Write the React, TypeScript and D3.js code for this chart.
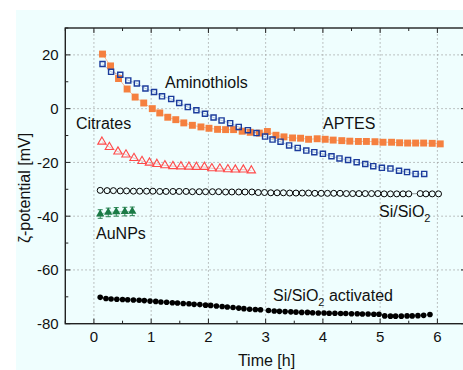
import React from "react";
import * as d3 from "d3";

// ---- data ----
const aminoT = [0.15,0.30,0.46,0.60,0.75,0.90,1.05,1.19,1.35,1.49,1.64,1.79,1.94,2.09,2.23,2.38,2.53,2.69,2.84,2.99,3.12,3.26,3.41,3.56,3.71,3.85,4.00,4.15,4.29,4.44,4.59,4.74,4.88,5.03,5.18,5.33,5.47,5.62,5.77];
const aminoV = [16.6,13.7,12.6,10.5,9.4,7.5,6.2,4.6,3.6,2.1,0.6,-0.6,-1.9,-3.3,-4.4,-5.4,-6.8,-8.0,-9.1,-10.4,-11.5,-12.3,-13.7,-14.6,-15.6,-16.2,-16.8,-17.7,-18.5,-19.1,-19.9,-20.6,-21.4,-22.0,-22.3,-23.1,-23.6,-24.3,-24.3];

const aptesT = [0.15,0.29,0.43,0.58,0.72,0.87,1.02,1.15,1.29,1.43,1.57,1.72,1.87,2.01,2.16,2.30,2.44,2.59,2.73,2.89,3.03,3.18,3.32,3.47,3.61,3.75,3.90,4.04,4.18,4.33,4.47,4.62,4.76,4.91,5.05,5.20,5.34,5.48,5.62,5.76,5.91,6.05];
const aptesV = [20.3,15.9,11.2,7.3,4.3,2.1,0.0,-1.6,-3.2,-4.1,-5.3,-6.2,-6.8,-7.3,-7.7,-7.8,-7.8,-8.4,-8.8,-9.1,-8.5,-9.9,-10.5,-10.9,-11.0,-11.4,-11.2,-11.4,-11.7,-11.9,-12.1,-12.2,-12.2,-12.3,-12.5,-12.5,-12.7,-12.8,-12.8,-12.8,-12.9,-13.1];

const citT = [0.14,0.27,0.42,0.56,0.70,0.84,0.97,1.10,1.24,1.38,1.52,1.66,1.79,1.93,2.06,2.20,2.34,2.47,2.61,2.75];
const citV = [-12.3,-14.3,-16.0,-17.1,-18.4,-19.5,-20.1,-20.6,-21.1,-21.4,-21.5,-21.6,-21.7,-21.7,-22.2,-22.3,-22.6,-22.7,-22.7,-23.0];

const sioT = [0.11,0.23,0.34,0.46,0.57,0.69,0.80,0.92,1.03,1.15,1.26,1.38,1.49,1.61,1.72,1.84,1.95,2.07,2.18,2.30,2.41,2.53,2.64,2.76,
  2.87,2.98,3.09,3.20,3.31,3.42,3.53,3.64,3.75,3.86,3.97,4.08,4.19,4.30,4.41,4.52,4.63,4.74,4.85,4.96,5.07,5.18,5.29,5.40,5.50,
  5.70,5.80,5.91,6.02];
const sioV = [-30.4,-30.5,-30.5,-30.6,-30.6,-30.7,-30.7,-30.7,-30.7,-30.8,-30.8,-30.8,-30.8,-30.8,-30.9,-30.9,-30.9,-30.9,-30.9,-31.0,-31.0,-31.0,-31.0,-31.0,
  -31.2,-31.2,-31.3,-31.3,-31.3,-31.4,-31.4,-31.4,-31.4,-31.5,-31.5,-31.5,-31.5,-31.5,-31.6,-31.6,-31.6,-31.6,-31.6,-31.6,-31.7,-31.7,-31.7,-31.7,-31.7,
  -31.6,-31.7,-31.7,-31.7];

const actT = [0.11,0.21,0.30,0.40,0.50,0.59,0.69,0.79,0.88,0.98,1.08,1.17,1.27,1.37,1.46,1.56,1.66,1.75,1.85,1.95,2.04,2.14,2.24,2.33,2.43,2.53,2.62,2.72,2.82,2.91,
  3.05,3.15,3.24,3.34,3.44,3.53,3.63,3.73,3.82,3.92,4.02,4.11,4.21,4.31,4.40,4.50,4.60,4.69,4.79,4.89,4.98,5.08,5.18,5.27,5.37,5.47,5.56,5.66,5.76,5.87];
const actV = [-70.2,-70.6,-70.8,-70.9,-71.0,-71.1,-71.2,-71.3,-71.4,-71.6,-71.7,-71.9,-72.0,-72.2,-72.3,-72.5,-72.6,-72.8,-72.9,-73.1,-73.2,-73.4,-73.6,-73.8,-74.0,-74.2,-74.4,-74.6,-74.7,-74.8,
  -75.1,-75.3,-75.4,-75.5,-75.6,-75.7,-75.8,-75.8,-75.9,-76.0,-76.0,-76.1,-76.1,-76.2,-76.2,-76.3,-76.3,-76.4,-76.4,-76.5,-76.5,-77.1,-77.2,-77.2,-77.2,-77.1,-77.1,-77.0,-76.9,-76.6];

const auT = [0.11,0.25,0.39,0.54,0.67];
const auV = [-39.2,-38.6,-38.4,-38.3,-38.2];
const auErr = [1.6,1.6,1.6,1.6,1.6];

const xTicks = [0,1,2,3,4,5,6];
const yTicks = [-80,-60,-40,-20,0,20];

const W = 463, H = 370;
const FONT = "'Liberation Sans', Arial, sans-serif";

export default function App() {
  const x = d3.scaleLinear().domain([-0.5, 6.5]).range([65.3, 466]);
  const y = d3.scaleLinear().domain([-80, 30]).range([323.7, 28]);
  const [x0, x1] = x.range();
  const [y0, y1] = y.range();

  const zip = (t: number[], v: number[]) => t.map((tt, i) => [tt, v[i]] as [number, number]);
  const line = d3.line<[number, number]>().x(d => x(d[0])).y(d => y(d[1]));

  const sq = (s: number) => d3.symbol().type(d3.symbolSquare).size(s)() as string;
  const tri = (s: number) => d3.symbol().type(d3.symbolTriangle).size(s)() as string;

  const xMinor = d3.range(-0.5, 6.51, 0.5);
  const yMinor = d3.range(-80, 30.1, 10);

  const blue = "#1c3c9c";
  const orange = "#f5803f";
  const red = "#ff4a4a";
  const green = "#1a7a45";

  return (
    <svg width={W} height={H} style={{ position: "absolute", left: 0, top: 0 }} fontFamily={FONT}>
      <rect x={0} y={0} width={W} height={H} fill="#ffffff" />
      <rect x={16} y={10} width={W - 16} height={H - 10} fill="#effefe" />

      {/* grid */}
      <g stroke="#9a9a9a" strokeWidth={0.8} strokeDasharray="1.5,2.5">
        {xTicks.map(t => <line key={"gx" + t} x1={x(t)} x2={x(t)} y1={y0} y2={y1} />)}
        {yTicks.filter(v => v > -80).map(v => <line key={"gy" + v} x1={x0} x2={x1} y1={y(v)} y2={y(v)} />)}
      </g>

      {/* ticks */}
      <g stroke="#222" strokeWidth={1}>
        {xMinor.map(t => {
          const major = Math.abs(t - Math.round(t)) < 1e-6;
          const L = major ? 5 : 3;
          return (
            <g key={"tx" + t}>
              <line x1={x(t)} x2={x(t)} y1={y0} y2={y0 - L} />
              <line x1={x(t)} x2={x(t)} y1={y1} y2={y1 + L} />
            </g>
          );
        })}
        {yMinor.map(v => {
          const major = v % 20 === 0;
          const L = major ? 5 : 3;
          return (
            <g key={"ty" + v}>
              <line x1={x0} x2={x0 + L} y1={y(v)} y2={y(v)} />
              <line x1={x1} x2={x1 - L} y1={y(v)} y2={y(v)} />
            </g>
          );
        })}
      </g>

      {/* series lines */}
      <g fill="none" strokeWidth={1}>
        <path d={line(zip(aptesT, aptesV)) as string} stroke={orange} strokeOpacity={0.5} />
        <path d={line(zip(aminoT, aminoV)) as string} stroke={blue} strokeOpacity={0.3} />
        <path d={line(zip(citT, citV)) as string} stroke={red} strokeOpacity={0.35} />
        <path d={line(zip(sioT, sioV)) as string} stroke="#000" strokeOpacity={0.4} />
        <path d={line(zip(actT, actV)) as string} stroke="#000" strokeOpacity={0.4} />
        <path d={line(zip(auT, auV)) as string} stroke={green} strokeOpacity={0.4} />
      </g>

      {/* APTES */}
      {aptesT.map((t, i) => (
        <path key={"ap" + i} d={sq(48)} transform={`translate(${x(t)},${y(aptesV[i])})`} fill={orange} />
      ))}
      {/* Aminothiols */}
      {aminoT.map((t, i) => (
        <path key={"am" + i} d={sq(26)} transform={`translate(${x(t)},${y(aminoV[i])})`} fill="none" stroke={blue} strokeWidth={1.4} />
      ))}
      {/* Citrates */}
      {citT.map((t, i) => (
        <path key={"ci" + i} d={tri(30)} transform={`translate(${x(t)},${y(citV[i])})`} fill="none" stroke={red} strokeWidth={1.1} />
      ))}
      {/* Si/SiO2 */}
      {sioT.map((t, i) => (
        <circle key={"si" + i} cx={x(t)} cy={y(sioV[i])} r={3} fill="#effefe" stroke="#000" strokeWidth={1} />
      ))}
      {/* Si/SiO2 activated */}
      {actT.map((t, i) => (
        <circle key={"ac" + i} cx={x(t)} cy={y(actV[i])} r={2.8} fill="#000" />
      ))}
      {/* AuNPs */}
      <g stroke={green} strokeWidth={0.9}>
        {auT.map((t, i) => (
          <g key={"aue" + i}>
            <line x1={x(t)} x2={x(t)} y1={y(auV[i] + auErr[i])} y2={y(auV[i] - auErr[i])} />
            <line x1={x(t) - 2.5} x2={x(t) + 2.5} y1={y(auV[i] + auErr[i])} y2={y(auV[i] + auErr[i])} />
            <line x1={x(t) - 2.5} x2={x(t) + 2.5} y1={y(auV[i] - auErr[i])} y2={y(auV[i] - auErr[i])} />
          </g>
        ))}
      </g>
      {auT.map((t, i) => (
        <path key={"au" + i} d={tri(30)} transform={`translate(${x(t)},${y(auV[i])})`} fill={green} />
      ))}

      {/* frame */}
      <rect x={x0} y={y1} width={x1 - x0} height={y0 - y1} fill="none" stroke="#222" strokeWidth={1.4} />

      {/* tick labels */}
      <g fontSize={15} fill="#111">
        {xTicks.map(t => (
          <text key={"lx" + t} x={x(t)} y={341.5} textAnchor="middle">{t}</text>
        ))}
        {yTicks.map(v => (
          <text key={"ly" + v} x={58.7} y={y(v)} dy="0.36em" textAnchor="end">{v}</text>
        ))}
      </g>

      {/* axis titles */}
      <text x={266.5} y={366} fontSize={16} textAnchor="middle" fill="#111">Time [h]</text>
      <text transform="translate(30,188) rotate(-90)" fontSize={16} textAnchor="middle" fill="#111">ζ-potential [mV]</text>

      {/* annotations */}
      <g fontSize={16} fill="#111">
        <text x={165} y={88}>Aminothiols</text>
        <text x={76} y={128.5}>Citrates</text>
        <text x={323} y={129}>APTES</text>
        <text x={379} y={216.5}>Si/SiO<tspan dy={5} fontSize={11}>2</tspan></text>
        <text x={96} y={238.5}>AuNPs</text>
        <text x={273} y={300.7}>Si/SiO<tspan dy={5} fontSize={11}>2</tspan><tspan dy={-5}> activated</tspan></text>
      </g>
    </svg>
  );
}
